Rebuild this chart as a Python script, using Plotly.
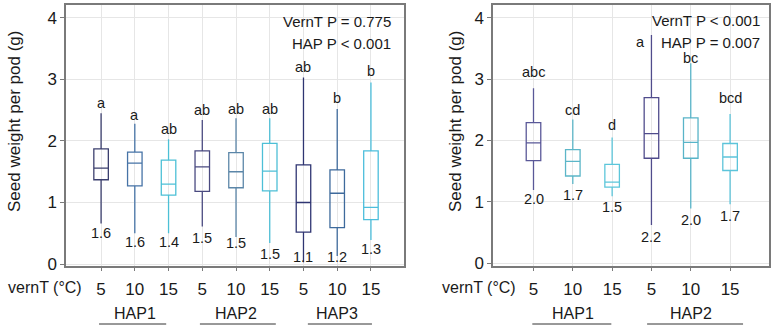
import plotly.graph_objects as go

# ---------------- data ----------------
vernT = ["5", "10", "15"]
left_groups = ["HAP1", "HAP2", "HAP3"]
right_groups = ["HAP1", "HAP2"]

left_upper = [2.45, 2.28, 2.03, 2.34, 2.37, 2.37, 3.03, 2.52, 2.95]
left_q3 = [1.87, 1.82, 1.69, 1.84, 1.81, 1.96, 1.61, 1.53, 1.84]
left_median = [1.56, 1.64, 1.30, 1.58, 1.50, 1.51, 1.00, 1.15, 0.92]
left_q1 = [1.37, 1.27, 1.12, 1.18, 1.24, 1.19, 0.52, 0.59, 0.72]
left_lower = [0.66, 0.50, 0.50, 0.61, 0.44, 0.34, 0.03, 0.13, 0.39]
left_letters = ["a", "a", "ab", "ab", "ab", "ab", "ab", "b", "b"]
left_means = ["1.6", "1.6", "1.4", "1.5", "1.5", "1.5", "1.1", "1.2", "1.3"]

right_upper = [2.85, 2.34, 2.05, 3.72, 3.26, 2.43]
right_q3 = [2.29, 1.85, 1.61, 2.70, 2.37, 1.95]
right_median = [1.96, 1.66, 1.32, 2.11, 1.97, 1.73]
right_q1 = [1.67, 1.42, 1.24, 1.71, 1.71, 1.51]
right_lower = [1.19, 1.29, 1.09, 0.62, 0.89, 0.96]
right_letters = ["abc", "cd", "d", "a", "bc", "bcd"]
right_means = ["2.0", "1.7", "1.5", "2.2", "2.0", "1.7"]

left_stats = ["VernT P = 0.775", "HAP P < 0.001"]
right_stats = ["VernT P < 0.001", "HAP P = 0.007"]

# ---------------- styling / placement ----------------
left_colors = ["#3b3f6e", "#4673a6", "#4cc0d6", "#4a4a80", "#5b86a8",
               "#4dbfd6", "#2f3572", "#3e6a9c", "#4cbedc"]
right_colors = ["#5a5898", "#5cb6c8", "#5cc6da", "#504c8c", "#58b4c8", "#5cc4da"]
left_letter_y = [2.62, 2.42, 2.20, 2.50, 2.52, 2.52, 3.20, 2.70, 3.13]
right_letter_y = [3.11, 2.50, 2.25, 3.61, 3.34, 2.69]
right_letter_dx = [0, 0, 0, -0.29, 0, 0]
left_mean_y = [0.51, 0.36, 0.35, 0.43, 0.34, 0.16, 0.12, 0.12, 0.24]
right_mean_y = [1.04, 1.11, 0.92, 0.42, 0.71, 0.76]
left_line_pad = [(-0.06, -0.07), (-0.07, 0.18), (0.13, 0.03)]
right_line_pad = [(-0.03, -0.02), (-0.11, 0.33)]

FONT = "Liberation Sans, Arial, sans-serif"
TXT = "#1a1a1a"
W, H = 776, 333
H_EFF = 325   # the page is shown vertically scaled to about 325/333


def py(p):
    """target pixel row (from top, in the final picture) -> paper fraction"""
    return 1 - p / H_EFF


fig = go.Figure()


def add_boxes(n_groups, upper, q3, med, q1, lower, colors, xa, ya, width):
    idx = 0
    for g in range(n_groups):
        for t in range(len(vernT)):
            fig.add_trace(go.Box(
                x=[idx], q1=[q1[idx]], median=[med[idx]], q3=[q3[idx]],
                lowerfence=[lower[idx]], upperfence=[upper[idx]],
                boxpoints=False, whiskerwidth=0, width=width,
                line=dict(color=colors[idx], width=1.3),
                fillcolor="rgba(255,255,255,0)",
                xaxis=xa, yaxis=ya, showlegend=False, hoverinfo="skip"))
            idx += 1


add_boxes(len(left_groups), left_upper, left_q3, left_median, left_q1, left_lower,
          left_colors, "x", "y", 0.43)
add_boxes(len(right_groups), right_upper, right_q3, right_median, right_q1, right_lower,
          right_colors, "x2", "y2", 0.37)

ydom = [py(265.5), py(5)]
axis_common = dict(showline=True, mirror=True, linecolor="#7a7a7a", linewidth=1.5,
                   showgrid=True, gridcolor="#e6e6e6", gridwidth=1, zeroline=False,
                   ticks="outside", ticklen=4, tickcolor="#7a7a7a",
                   tickfont=dict(family=FONT, size=17, color=TXT))

nL = len(left_groups) * len(vernT)
nR = len(right_groups) * len(vernT)

fig.update_layout(
    width=W, height=H, margin=dict(l=0, r=0, t=0, b=0),
    paper_bgcolor="white", plot_bgcolor="white",
    xaxis=dict(domain=[66 / W, 404 / W], range=[-1.04, nL - 1 + 0.98],
               tickvals=list(range(nL)), ticktext=vernT * len(left_groups),
               anchor="y", ticklabelstandoff=3, **axis_common),
    yaxis=dict(domain=ydom, range=[-0.024, 4.21], tickvals=[0, 1, 2, 3, 4],
               anchor="x", **axis_common),
    xaxis2=dict(domain=[493 / W, 769 / W], range=[-1.03, nR - 1 + 0.99],
                tickvals=list(range(nR)), ticktext=vernT * len(right_groups),
                anchor="y2", ticklabelstandoff=3, **axis_common),
    yaxis2=dict(domain=ydom, range=[-0.04, 4.21], tickvals=[0, 1, 2, 3, 4],
                anchor="x2", **axis_common),
)

ann = []
small = dict(family=FONT, size=14.5, color=TXT)
# letters and means
for i in range(nL):
    ann.append(dict(x=i, y=left_letter_y[i], xref="x", yref="y", text=left_letters[i],
                    showarrow=False, font=small))
    ann.append(dict(x=i, y=left_mean_y[i], xref="x", yref="y", text=left_means[i],
                    showarrow=False, font=small))
for i in range(nR):
    ann.append(dict(x=i + right_letter_dx[i], y=right_letter_y[i], xref="x2", yref="y2",
                    text=right_letters[i], showarrow=False, font=small))
    ann.append(dict(x=i, y=right_mean_y[i], xref="x2", yref="y2", text=right_means[i],
                    showarrow=False, font=small))

# stats text
for k, s in enumerate(left_stats):
    ann.append(dict(x=393 / W, y=py(21 + 22 * k), xref="paper", yref="paper",
                    xanchor="right", yanchor="middle", text=s, showarrow=False,
                    font=dict(family=FONT, size=15, color=TXT)))
for k, s in enumerate(right_stats):
    ann.append(dict(x=762 / W, y=py(20 + 22 * k), xref="paper", yref="paper",
                    xanchor="right", yanchor="middle", text=s, showarrow=False,
                    font=dict(family=FONT, size=15, color=TXT)))

# y titles
for xp in [14, 455]:
    ann.append(dict(x=xp / W, y=py(122), xref="paper", yref="paper",
                    text="Seed weight per pod (g)", textangle=-90, showarrow=False,
                    xanchor="center", yanchor="middle",
                    font=dict(family=FONT, size=17, color=TXT)))

# vernT labels
for xp in [84, 518]:
    ann.append(dict(x=xp / W, y=py(287), xref="paper", yref="paper",
                    text="vernT (°C)", showarrow=False, xanchor="right", yanchor="middle",
                    font=dict(family=FONT, size=16, color=TXT)))

shapes = []
line_y = py(324)
# group labels and underlines
for g, name in enumerate(left_groups):
    c = g * 3 + 1
    ann.append(dict(x=c, y=py(313), xref="x", yref="paper", text=name,
                    showarrow=False, yanchor="middle",
                    font=dict(family=FONT, size=16, color=TXT)))
    shapes.append(dict(type="line", xref="x", yref="paper",
                       x0=g * 3 + left_line_pad[g][0], x1=g * 3 + 2 + left_line_pad[g][1],
                       y0=line_y, y1=line_y, line=dict(color="#333333", width=1)))
for g, name in enumerate(right_groups):
    c = g * 3 + 1
    ann.append(dict(x=c, y=py(313), xref="x2", yref="paper", text=name,
                    showarrow=False, yanchor="middle",
                    font=dict(family=FONT, size=16, color=TXT)))
    shapes.append(dict(type="line", xref="x2", yref="paper",
                       x0=g * 3 + right_line_pad[g][0], x1=g * 3 + 2 + right_line_pad[g][1],
                       y0=line_y, y1=line_y, line=dict(color="#333333", width=1)))

fig.update_layout(annotations=ann, shapes=shapes)
fig.write_html(
    "out.html",
    config={"displayModeBar": False},
    post_script=("document.body.style.margin='0';"
                 "document.body.style.overflow='hidden';"
                 "document.documentElement.style.overflow='hidden';"),
)
